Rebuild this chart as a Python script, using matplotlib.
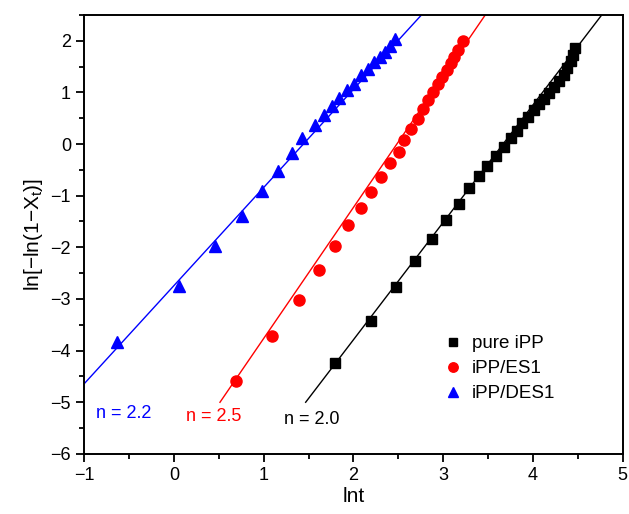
import numpy as np
import matplotlib
matplotlib.use("Agg")
import matplotlib.pyplot as plt
from matplotlib.ticker import MultipleLocator

plt.rcParams["font.family"] = ["Liberation Sans", "DejaVu Sans"]
plt.rcParams["mathtext.fontset"] = "custom"
plt.rcParams["mathtext.rm"] = "Liberation Sans"
plt.rcParams["mathtext.it"] = "Liberation Sans"

# ── data ─────────────────────────────────────────────────────────────────────
pure_x = [1.79, 2.20, 2.475, 2.69, 2.88, 3.03, 3.18, 3.29, 3.394, 3.483, 3.587,
          3.68, 3.754, 3.82, 3.883, 3.95, 4.013, 4.069, 4.125, 4.18, 4.236,
          4.29, 4.347, 4.384, 4.42, 4.45, 4.47]
pure_y = [-4.25, -3.42, -2.77, -2.26, -1.84, -1.47, -1.16, -0.86, -0.62, -0.43,
          -0.23, -0.05, 0.11, 0.26, 0.40, 0.53, 0.66, 0.77, 0.88, 0.99, 1.11,
          1.22, 1.33, 1.48, 1.61, 1.73, 1.85]

es1_x = [0.69, 1.096, 1.388, 1.611, 1.796, 1.944, 2.081, 2.20, 2.304, 2.408,
         2.51, 2.567, 2.642, 2.715, 2.77, 2.827, 2.882, 2.938, 2.987, 3.038,
         3.087, 3.123, 3.16, 3.224]
es1_y = [-4.59, -3.71, -3.02, -2.44, -1.97, -1.57, -1.23, -0.92, -0.63, -0.37,
         -0.15, 0.08, 0.29, 0.48, 0.67, 0.85, 1.01, 1.16, 1.30, 1.43, 1.57,
         1.69, 1.82, 1.99]

des1_x = [-0.63, 0.057, 0.457, 0.754, 0.977, 1.158, 1.314, 1.43, 1.566, 1.67,
          1.763, 1.844, 1.926, 2.003, 2.086, 2.159, 2.234, 2.297, 2.356, 2.408,
          2.464]
des1_y = [-3.83, -2.74, -1.97, -1.39, -0.91, -0.52, -0.18, 0.11, 0.36, 0.56,
          0.74, 0.90, 1.04, 1.17, 1.33, 1.46, 1.59, 1.69, 1.79, 1.89, 2.04]

# fitted lines: intercept, slope, start x
fit_pure = (-8.335, 2.273, 1.467)
fit_es1 = (-6.30, 2.537, 0.512)
fit_des1 = (-2.74, 1.90, -1.0)

labels = ["pure iPP", "iPP/ES1", "iPP/DES1"]
n_labels = ["n = 2.0", "n = 2.5", "n = 2.2"]

FS = 13

# ── figure ───────────────────────────────────────────────────────────────────
fig = plt.figure(figsize=(6.29, 5.14), dpi=100)
ax = fig.add_axes([0.134, 0.117, 0.856, 0.854])

YMAX = 2.5
for (a, b, x0), col in zip([fit_pure, fit_es1, fit_des1], ["black", "red", "blue"]):
    x1 = (YMAX - a) / b
    xs = np.array([x0, x1])
    ax.plot(xs, a + b * xs, color=col, lw=1.0, zorder=2)

ax.plot(pure_x, pure_y, "s", color="black", ms=7, ls="none", label=labels[0], zorder=3)
ax.plot(es1_x, es1_y, "o", color="red", ms=8, ls="none", label=labels[1], zorder=3)
ax.plot(des1_x, des1_y, "^", color="blue", ms=8.5, ls="none", label=labels[2], zorder=3)

ax.text(-0.87, -5.22, n_labels[2], color="blue", fontsize=FS, va="center")
ax.text(0.13, -5.28, n_labels[1], color="red", fontsize=FS, va="center")
ax.text(1.23, -5.33, n_labels[0], color="black", fontsize=FS, va="center")

ax.set_xlim(-1, 5)
ax.set_ylim(-6, 2.5)
ax.xaxis.set_major_locator(MultipleLocator(1))
ax.xaxis.set_minor_locator(MultipleLocator(0.5))
ax.yaxis.set_major_locator(MultipleLocator(1))
ax.yaxis.set_minor_locator(MultipleLocator(0.5))
ax.tick_params(which="both", direction="out", top=False, right=False,
               labelsize=FS, width=1.3)
ax.tick_params(which="major", length=6)
ax.tick_params(which="minor", length=3.5)
ax.set_xticklabels([f"{int(v)}".replace("-", "\u2212") for v in ax.get_xticks()])
ax.set_yticklabels([f"{int(v)}".replace("-", "\u2212") for v in ax.get_yticks()])
for s in ax.spines.values():
    s.set_linewidth(1.4)

ax.set_xlabel("lnt", fontsize=15, labelpad=2)
ax.set_ylabel("ln[\u2212ln(1\u2212X$_\\mathregular{t}$)]", fontsize=15, labelpad=4)

ax.legend(loc="upper left", bbox_to_anchor=(0.664, 0.27), frameon=False,
          fontsize=13.5, handletextpad=0.4, labelspacing=0.42, handlelength=1.2,
          markerscale=0.85, borderaxespad=0, borderpad=0)

fig.savefig("out.png", dpi=100)
